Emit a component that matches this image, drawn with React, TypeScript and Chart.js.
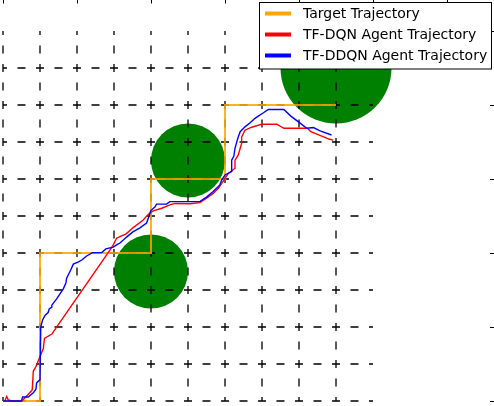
import React, { useEffect, useRef } from "react";
import { Chart, registerables } from "chart.js";

Chart.register(...registerables);

// ---- data ----
const TARGET_X = [0, 1, 1, 4, 4, 6, 6, 9];
const TARGET_Y = [0, 0, 4, 4, 6, 6, 8, 8];

const DQN_X = [0.05, 0.1, 0.14, 0.24, 0.51, 0.59, 0.79, 0.82, 0.89, 1.0, 1.09, 1.12, 1.32, 1.36, 2.89, 2.98, 3.07, 3.16, 3.32, 3.51, 3.79, 3.93, 4.06, 4.29, 4.51, 4.65, 5.05, 5.32, 5.5, 5.68, 5.82, 5.91, 6.0, 6.09, 6.27, 6.27, 6.36, 6.41, 6.45, 6.45, 6.54, 6.72, 6.99, 7.4, 7.59, 8.23, 8.32, 8.81, 8.92];
const DQN_Y = [0, 0.12, 0.03, 0, 0, 0.08, 0.3, 0.81, 0.93, 1.2, 1.42, 1.69, 1.81, 1.87, 4.08, 4.22, 4.4, 4.44, 4.51, 4.68, 4.89, 5.05, 5.14, 5.21, 5.3, 5.34, 5.33, 5.36, 5.48, 5.61, 5.75, 5.88, 6.02, 6.15, 6.29, 6.51, 6.65, 6.83, 6.96, 7.14, 7.32, 7.4, 7.48, 7.48, 7.37, 7.37, 7.28, 7.08, 7.05];

const DDQN_X = [0, 0.5, 0.53, 0.68, 0.82, 0.89, 0.91, 0.95, 1.0, 1.02, 1.07, 1.14, 1.22, 1.25, 1.32, 1.32, 1.45, 1.63, 1.7, 1.72, 1.83, 1.9, 2.04, 2.13, 2.26, 2.42, 2.67, 2.78, 2.98, 3.07, 3.16, 3.34, 3.51, 3.7, 3.88, 3.95, 3.99, 4.11, 4.15, 4.42, 4.51, 5.32, 5.5, 5.68, 5.86, 5.91, 6.0, 6.12, 6.18, 6.18, 6.24, 6.27, 6.32, 6.36, 6.41, 6.54, 6.68, 6.81, 6.9, 7.04, 7.17, 7.59, 7.78, 8.03, 8.21, 8.39, 8.57, 8.88];
const DDQN_Y = [0, 0, 0.11, 0.11, 0.22, 0.32, 0.49, 0.53, 0.57, 2.0, 2.19, 2.32, 2.39, 2.49, 2.54, 2.59, 2.76, 3.03, 3.19, 3.32, 3.54, 3.7, 3.76, 3.81, 3.92, 4.01, 4.01, 4.11, 4.16, 4.22, 4.27, 4.43, 4.57, 4.68, 4.81, 5.0, 5.14, 5.25, 5.32, 5.32, 5.39, 5.39, 5.51, 5.66, 5.84, 5.97, 6.11, 6.17, 6.2, 6.51, 6.62, 6.83, 7.01, 7.14, 7.28, 7.41, 7.52, 7.64, 7.7, 7.79, 7.88, 7.88, 7.7, 7.51, 7.37, 7.39, 7.3, 7.19];

const OBSTACLE_X = [4, 5, 9];
const OBSTACLE_Y = [3.5, 6.5, 9];
const OBSTACLE_R = [1, 1, 1.5];

const GRID_POSITIONS = [0, 1, 2, 3, 4, 5, 6, 7, 8, 9];
const GRID_EXTENT = 10;

const TICKS_X = [0, 2, 4, 6, 8, 10, 12];
const TICKS_Y = [0, 2, 4, 6, 8, 10];

const LEGEND_LABELS = ["Target Trajectory", "TF-DQN Agent Trajectory", "TF-DDQN Agent Trajectory"];
const LEGEND_COLORS = ["#ffa500", "#ff0000", "#0000ff"];

const X_MIN = -0.081;
const X_MAX = 13.27;
const Y_MIN = -0.135;
const Y_MAX = 10.838;

const toPoints = (xs: number[], ys: number[]) => xs.map((x, i) => ({ x, y: ys[i] }));

const obstaclePlugin = {
  id: "obstacles",
  beforeDatasetsDraw(chart: any) {
    const { ctx, scales } = chart;
    const sx = scales.x;
    const sy = scales.y;
    ctx.save();
    ctx.fillStyle = "#008000";
    OBSTACLE_X.forEach((cxv, i) => {
      const cx = sx.getPixelForValue(cxv);
      const cy = sy.getPixelForValue(OBSTACLE_Y[i]);
      const rx = Math.abs(sx.getPixelForValue(cxv + OBSTACLE_R[i]) - cx);
      const ry = Math.abs(sy.getPixelForValue(OBSTACLE_Y[i] + OBSTACLE_R[i]) - cy);
      ctx.beginPath();
      ctx.ellipse(cx, cy, rx, ry, 0, 0, Math.PI * 2);
      ctx.fill();
    });
    ctx.restore();
  },
};

const decorPlugin = {
  id: "decor",
  afterDraw(chart: any) {
    const { ctx, scales, width } = chart;
    const sx = scales.x;
    const sy = scales.y;
    ctx.save();
    // tick marks (top and right spines lie just outside the view)
    ctx.strokeStyle = "#000";
    ctx.lineWidth = 1;
    TICKS_X.forEach((t) => {
      const px = Math.round(sx.getPixelForValue(t)) + 0.5;
      ctx.beginPath();
      ctx.moveTo(px, 0);
      ctx.lineTo(px, 3.5);
      ctx.stroke();
    });
    TICKS_Y.forEach((t) => {
      const py = Math.round(sy.getPixelForValue(t)) + 0.5;
      ctx.beginPath();
      ctx.moveTo(width, py);
      ctx.lineTo(width - 4, py);
      ctx.stroke();
    });
    // legend
    const bx = 259.5, by = 2.5, bw = 232, bh = 66.5;
    ctx.fillStyle = "#fff";
    ctx.fillRect(bx, by, bw, bh);
    ctx.strokeStyle = "#000";
    ctx.lineWidth = 1;
    ctx.strokeRect(bx, by, bw, bh);
    ctx.font = "14px 'DejaVu Sans'";
    ctx.textBaseline = "middle";
    ctx.textAlign = "left";
    LEGEND_LABELS.forEach((label, i) => {
      const ry = 13.5 + i * 21;
      ctx.strokeStyle = LEGEND_COLORS[i];
      ctx.lineWidth = 4;
      ctx.beginPath();
      ctx.moveTo(265, ry);
      ctx.lineTo(291, ry);
      ctx.stroke();
      ctx.fillStyle = "#000";
      ctx.fillText(label, 303, ry + 0.5);
    });
    ctx.restore();
  },
};

export default function App() {
  const canvasRef = useRef<HTMLCanvasElement | null>(null);

  useEffect(() => {
    if (!canvasRef.current) return;
    const gridSets: any[] = [];
    GRID_POSITIONS.forEach((g) => {
      gridSets.push({
        data: [{ x: 0, y: g }, { x: GRID_EXTENT, y: g }],
        borderColor: "#000",
        borderWidth: 1.3,
        borderDash: [8, 10.5],
        borderDashOffset: 4,
        showLine: true,
        pointRadius: 0,
        order: 3,
      });
      gridSets.push({
        data: [{ x: g, y: 0 }, { x: g, y: GRID_EXTENT }],
        borderColor: "#000",
        borderWidth: 1.3,
        borderDash: [8, 10.5],
        borderDashOffset: 4,
        showLine: true,
        pointRadius: 0,
        order: 3,
      });
    });
    const chart = new Chart(canvasRef.current, {
      type: "scatter",
      data: {
        datasets: [
          {
            label: LEGEND_LABELS[2],
            data: toPoints(DDQN_X, DDQN_Y),
            borderColor: "#0000ff",
            borderWidth: 1.4,
            showLine: true,
            pointRadius: 0,
            tension: 0,
            order: 0,
          },
          {
            label: LEGEND_LABELS[1],
            data: toPoints(DQN_X, DQN_Y),
            borderColor: "#ff0000",
            borderWidth: 1.4,
            showLine: true,
            pointRadius: 0,
            tension: 0,
            order: 1,
          },
          {
            label: LEGEND_LABELS[0],
            data: toPoints(TARGET_X, TARGET_Y),
            borderColor: "rgba(255,165,0,0.85)",
            borderWidth: 2,
            showLine: true,
            pointRadius: 0,
            tension: 0,
            order: 2,
          },
          ...gridSets,
        ],
      },
      options: {
        responsive: false,
        animation: false,
        devicePixelRatio: 1,
        layout: { padding: 0 },
        events: [],
        plugins: {
          legend: { display: false },
          tooltip: { enabled: false },
        },
        scales: {
          x: { type: "linear", min: X_MIN, max: X_MAX, display: false },
          y: { type: "linear", min: Y_MIN, max: Y_MAX, display: false },
        },
      },
      plugins: [obstaclePlugin, decorPlugin],
    });
    return () => chart.destroy();
  }, []);

  return (
    <div style={{ position: "fixed", left: 0, top: 0, width: 494, height: 406, background: "#fff" }}>
      <canvas ref={canvasRef} width={494} height={406} style={{ display: "block", width: 494, height: 406 }} />
    </div>
  );
}
